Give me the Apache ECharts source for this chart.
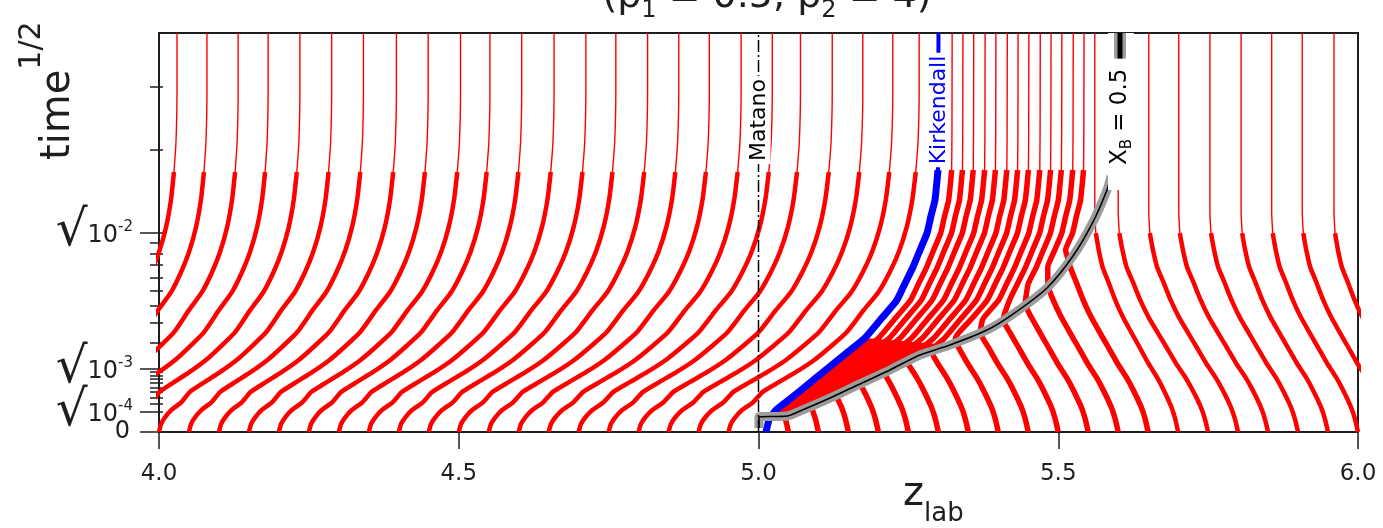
<!DOCTYPE html>
<html>
<head>
<meta charset="utf-8">
<script src="https://cdn.jsdelivr.net/npm/echarts@6.0.0/dist/echarts.min.js"></script>
<style>
html,body{margin:0;padding:0;background:#fff;}
#chart{width:1383px;height:528px;}
</style>
</head>
<body>
<div id="chart"></div>
<script>
// ---------------- values ----------------
// axes
const xTickValues = [4.0, 4.5, 5.0, 5.5, 6.0];
const yLabelValues = [0.01, 0.0316228, 0.1];          // sqrt(1e-4), sqrt(1e-3), sqrt(1e-2)
const yLabelExponents = ['-4', '-3', '-2'];
const yZeroValue = [0];
const yMinorValues = [0.014142, 0.017321, 0.020000, 0.022361, 0.024495, 0.026458, 0.028284, 0.030000,
                      0.044721, 0.054772, 0.063246, 0.070711, 0.077460, 0.083666, 0.089443, 0.094868,
                      0.141421, 0.173205];

// marker trajectories left of the Matano plane: start position, final position, shape of the drift
const leftStart = [3.75,3.80,3.85,3.90,3.95,4.00,4.05,4.10,4.15,4.20,4.25,4.30,4.35,4.40,4.45,4.50,4.55,4.60,4.65,4.70,4.75,4.80,4.85,4.90,4.95];
const leftEnd   = [4.030,4.080,4.132,4.182,4.235,4.288,4.341,4.396,4.449,4.503,4.552,4.605,4.659,4.712,4.762,4.815,4.867,4.918,4.971,5.023,5.070,5.123,5.174,5.224,5.268];
const leftShapeS = [0,0.0040,0.0075,0.0110,0.0150,0.0200,0.0251,0.0301,0.0361,0.0426,0.0501,0.0612,0.0702,0.0802,0.0902,0.1028,0.1163,0.1303,0.1454,0.1704,0.2];
const leftShapeF = [0,0.012,0.036,0.071,0.130,0.178,0.266,0.355,0.450,0.533,0.621,0.710,0.787,0.846,0.893,0.935,0.964,0.982,0.994,1,1];

// marker trajectories on the far right side
const rightStart = [5.70,5.75,5.80,5.85,5.90,5.95,6.00,6.05,6.10];
const rightEnd   = [5.561,5.600,5.651,5.701,5.753,5.805,5.856,5.907,5.960];
const rightShapeS = [0,0.0065,0.0125,0.0211,0.0276,0.0346,0.0426,0.0496,0.0576,0.0662,0.0752,0.0827,0.0912,0.0997,0.1103,0.1303,0.2];
const rightShapeF = [0,0.035,0.081,0.174,0.256,0.360,0.465,0.558,0.663,0.756,0.837,0.907,0.953,0.988,1,1,1];

// markers caught between the Kirkendall plane and the X_B = 0.5 front
const centralStart  = [5.05,5.10,5.15,5.20,5.25,5.30,5.35,5.40,5.45,5.50,5.55,5.60,5.65];
const centralEnd    = [5.323,5.341,5.359,5.378,5.396,5.415,5.433,5.451,5.470,5.488,5.506,5.525,5.543];
const centralEntryZ = [5.044,5.088,5.129,5.169,5.209,5.248,5.288,5.329,5.370,5.408,5.445,5.483,5.518];
const centralEntryS = [0.0075,0.0130,0.0185,0.0241,0.0296,0.0351,0.0406,0.0446,0.0496,0.0561,0.0642,0.0732,0.0852];
const centralDrift = 0.1435;

// Kirkendall plane
const kirkS = [0,0.0060,0.0105,0.0150,0.0206,0.0276,0.0341,0.0406,0.0471,0.0566,0.0662,0.0742,0.0827,0.0912,0.0997,0.1083,0.1163,0.1313,0.1504,0.2];
const kirkZ = [5.0125,5.0175,5.0275,5.0459,5.0692,5.0976,5.1243,5.1510,5.1776,5.2043,5.2310,5.2440,5.2577,5.2694,5.2811,5.2877,5.2944,5.2994,5.2999,5.3002];

// X_B = 0.5 front
const xbS = [0.0020,0.0075,0.0080,0.0105,0.0170,0.0241,0.0311,0.0386,0.0436,0.0511,0.0591,0.0722,0.0882,0.1053,0.1213,0.1283];
const xbZ = [5.0008,5.0008,5.0475,5.0692,5.1193,5.1693,5.2193,5.2694,5.3194,5.3811,5.4245,5.4812,5.5246,5.5580,5.5813,5.5880];

// Matano plane
const matanoZ = 5.0;

// ---------------- chart ----------------
const FAM = '"DejaVu Sans", Verdana, sans-serif';
const RED = '#ff0000', BLUE = '#0000ff', GRAY = '#9c9c9c', INK = '#1e1e1e';

const series = [];
function addLine(data, color, width, z, type, smooth) {
  series.push({type:'line', data, symbol:'none', showSymbol:false, silent:true, animation:false, z,
    smooth: smooth || false,
    lineStyle:{color, width, type: type || 'solid', cap:'butt', join:'round'}});
}
function addSplit(pts, sSplit, color, w1, w2, z, smooth) {
  const a = pts.filter(p => p[1] <= sSplit + 1e-9);
  const b = pts.filter(p => p[1] >= sSplit - 1e-9);
  if (a.length > 1) addLine(a, color, w1, z, null, smooth);
  if (b.length > 1) addLine(b, color, w2, z, null, smooth);
}

leftStart.forEach((x0, i) => {
  const pts = leftShapeS.map((s, k) => [x0 + (leftEnd[i] - x0) * leftShapeF[k], s]);
  addSplit(pts, 0.1303, RED, 4.5, 1.4, 2, 0.2);
});
rightStart.forEach((x0, i) => {
  const pts = rightShapeS.map((s, k) => [x0 + (rightEnd[i] - x0) * rightShapeF[k], s]);
  addSplit(pts, 0.0997, RED, 4.5, 1.4, 2, 0.2);
});
const kirkTop = kirkZ[kirkZ.length - 1];
centralStart.forEach((x0, i) => {
  const pts = [];
  rightShapeS.forEach((s, k) => { if (s < centralEntryS[i]) pts.push([x0 - centralDrift * rightShapeF[k], s]); });
  pts.push([centralEntryZ[i], centralEntryS[i]]);
  // inside the zone each marker runs parallel to the Kirkendall plane
  kirkS.forEach((s, j) => { if (s > centralEntryS[i] + 0.002) pts.push([kirkZ[j] + (centralEnd[i] - kirkTop), s]); });
  addSplit(pts, 0.1313, RED, 5.5, 1.4, 2, 0.15);
});

// solid red zone low between Kirkendall plane and X_B front
series.push({
  type:'custom', silent:true, animation:false, z:1, clip:true, data:[[5.1, 0.02]],
  renderItem: (params, api) => {
    const pts = [];
    kirkS.forEach((s, i) => { if (s > 0 && s <= 0.048) pts.push(api.coord([kirkZ[i], s])); });
    for (let i = xbS.length - 1; i >= 0; i--) if (xbS[i] >= 0.0075 && xbS[i] <= 0.044) pts.push(api.coord([xbZ[i], xbS[i]]));
    return {type:'polygon', shape:{points:pts}, style:{fill:RED}};
  }
});

const kirkPts = kirkS.map((s, i) => [kirkZ[i], s]);
addSplit(kirkPts, 0.1313, BLUE, 7, 4, 4, 0.15);
const xbPts = xbS.map((s, i) => [xbZ[i], s]);
addLine(xbPts, GRAY, 9, 5, null, 0.25);
addLine(xbPts, '#000', 1.6, 6, null, 0.25);
addLine([[matanoZ, 0], [matanoZ, 0.2]], '#000', 1.5, 7, [12, 3, 2, 3]);

const tickStyle = {color: INK, width: 1.5};
const yBase = {type:'value', min:0, max:0.2, position:'left', splitLine:{show:false}};
const labelFont = {fontFamily:FAM, color:INK};
const sqrtLabel = {
  formatter:v => {
    const i = yLabelValues.findIndex(u => Math.abs(u - v) < 1e-6);
    return '{r|√}{n|10}{s|' + yLabelExponents[i] + '}';
  },
  rich:{
    r:Object.assign({fontSize:50, lineHeight:30, verticalAlign:'middle'}, labelFont),
    n:Object.assign({fontSize:24, verticalAlign:'middle', padding:[6,0,0,0]}, labelFont),
    s:Object.assign({fontSize:15, verticalAlign:'top', padding:[2,0,0,0]}, labelFont)
  },
  margin:26
};
const option = {
  animation:false,
  backgroundColor:'#fff',
  grid:{left:159, right:25, top:33, bottom:96, show:true, borderColor:INK, borderWidth:2, backgroundColor:'transparent'},
  xAxis:{type:'value', min:4, max:6, interval:0.5, splitLine:{show:false},
    axisLine:{show:true, onZero:false, lineStyle:{color:INK, width:2}},
    axisTick:{show:true, length:17, customValues:xTickValues, lineStyle:tickStyle},
    axisLabel:{customValues:xTickValues, formatter:v => v.toFixed(1), fontSize:23, fontFamily:FAM, color:INK, margin:31}},
  yAxis:[
    Object.assign({}, yBase, {
      axisLine:{show:true, onZero:false, lineStyle:{color:INK, width:2}},
      axisTick:{show:true, length:19, customValues:yLabelValues.concat(yZeroValue), lineStyle:tickStyle},
      axisLabel:Object.assign({customValues:yLabelValues.slice(1)}, sqrtLabel)
    }),
    Object.assign({}, yBase, {axisLine:{show:false},
      axisTick:{show:true, length:9, customValues:yMinorValues, lineStyle:tickStyle},
      axisLabel:{customValues:yZeroValue, formatter:() => '0', fontSize:24, fontFamily:FAM, color:INK, margin:29}}),
    Object.assign({}, yBase, {axisLine:{show:false},
      axisTick:{show:true, inside:true, length:4, customValues:yLabelValues.concat(yZeroValue, yMinorValues), lineStyle:tickStyle},
      axisLabel:Object.assign({customValues:yLabelValues.slice(0, 1)}, sqrtLabel)})
  ],
  series
};

const chart = echarts.init(document.getElementById('chart'), null, {renderer:'canvas'});
chart.setOption(option);

// ---------------- text annotations ----------------
const mctx = document.createElement('canvas').getContext('2d');
function tw(t, size) { mctx.font = size + 'px ' + FAM; return mctx.measureText(t).width; }
const DESC = 0.16;
function textGroup(o) {
  const widths = o.pieces.map(p => tw(p.t, p.size));
  const W = widths.reduce((a, b) => a + b, 0);
  let cx = o.align === 'center' ? -W / 2 : 0;
  const x0 = cx;
  const kids = [];
  if (o.bg) {
    const left = x0 - o.bg.before;
    const right = o.bg.toEnd !== undefined ? o.bg.toEnd : x0 + W + o.bg.after;
    kids.push({type:'rect', z:100, shape:{x:left, y:-o.bg.up, width:right - left, height:o.bg.up + o.bg.down}, style:{fill:'#fff'}});
  }
  o.pieces.forEach((p, i) => {
    kids.push({type:'text', z:101, x:cx, y:(p.dy || 0) + DESC * p.size,
      style:{text:p.t, font:p.size + 'px ' + FAM, fill:p.color || INK, align:'left', verticalAlign:'bottom'}});
    cx += widths[i];
  });
  if (o.extra) o.extra(kids, x0 + W);
  return {type:'group', x:o.x, y:o.y, rotation:o.rotation || 0, z:100, silent:true, children:kids};
}
const toPx = (z, s) => chart.convertToPixel({gridIndex:0}, [z, s]);
const R90 = Math.PI / 2;
const graphics = [];

graphics.push(textGroup({x:767, y:10, align:'center', pieces:[
  {t:'(p', size:38}, {t:'1', size:24, dy:9}, {t:' = 0.5, p', size:38}, {t:'2', size:24, dy:9}, {t:' = 4)', size:38}]}));
graphics.push(textGroup({x:72, y:160, rotation:R90, pieces:[{t:'time', size:40}, {t:'1/2', size:30, dy:-30}]}));
graphics.push(textGroup({x:903, y:508, pieces:[{t:'z', size:40}, {t:'lab', size:26, dy:15}]}));

const mp = toPx(matanoZ, 0.1564);
graphics.push(textGroup({x:mp[0] + 8, y:mp[1], rotation:R90, align:'center',
  pieces:[{t:'Matano', size:22, color:'#000'}], bg:{before:3, after:3, up:18, down:4}}));
const kp = toPx(kirkTop, 0.1614);
graphics.push(textGroup({x:kp[0] + 8, y:kp[1], rotation:R90, align:'center',
  pieces:[{t:'Kirkendall', size:22, color:BLUE}], bg:{before:3, after:3, up:18, down:4}}));
const bp = toPx(5.603, 0.1338);
const topPx = toPx(5.603, 0.2)[1];
const span = bp[1] - topPx;
graphics.push(textGroup({x:bp[0] + 8, y:bp[1], rotation:R90,
  pieces:[{t:'X', size:23, color:'#000'}, {t:'B', size:15, dy:4, color:'#000'}, {t:' = 0.5', size:23, color:'#000'}],
  bg:{before:25, toEnd:span, up:20, down:6},
  extra:(kids, end) => {
    const a = end + 10, L = Math.max(4, span - a);
    kids.push({type:'rect', z:102, shape:{x:a, y:-14, width:L, height:12}, style:{fill:GRAY}});
    kids.push({type:'rect', z:103, shape:{x:a, y:-10.5, width:L, height:5}, style:{fill:'#000'}});
  }}));

chart.setOption({graphic:graphics});
</script>
</body>
</html>
